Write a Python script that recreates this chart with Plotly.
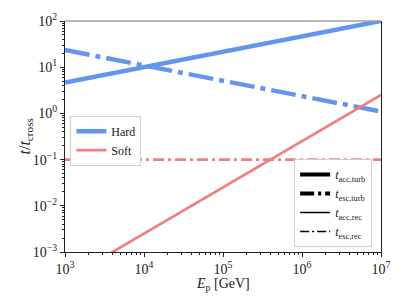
import plotly.graph_objects as go

# Data
energy = [1e3, 1e7]  # GeV
hard_acc_turb = [4.64, 100.0]
hard_esc_turb = [23.5, 1.1]
soft_acc_rec = [2.5e-4, 2.5]
soft_esc_rec = [0.1, 0.1]

x_tick_vals = [1e3, 1e4, 1e5, 1e6, 1e7]
x_tick_text = ["10<sup>3</sup>", "10<sup>4</sup>", "10<sup>5</sup>", "10<sup>6</sup>", "10<sup>7</sup>"]
y_tick_vals = [1e-3, 1e-2, 1e-1, 1e0, 1e1, 1e2]
y_tick_text = ["10<sup>\u22123</sup>", "10<sup>\u22122</sup>", "10<sup>\u22121</sup>",
               "10<sup>0</sup>", "10<sup>1</sup>", "10<sup>2</sup>"]

blue = "#6495ED"
red = "#F08080"
font_family = "Liberation Serif"

fig = go.Figure()

fig.add_trace(go.Scatter(x=energy, y=hard_acc_turb, mode="lines",
                         line=dict(color=blue, width=4.5), name="Hard", legend="legend"))
fig.add_trace(go.Scatter(x=energy, y=hard_esc_turb, mode="lines",
                         line=dict(color=blue, width=4.5, dash="25px,6px,5px,6px"),
                         showlegend=False))
fig.add_trace(go.Scatter(x=energy, y=soft_acc_rec, mode="lines",
                         line=dict(color=red, width=2.7), name="Soft", legend="legend"))
fig.add_trace(go.Scatter(x=energy, y=soft_esc_rec, mode="lines",
                         line=dict(color=red, width=2.7, dash="11px,4px,3px,4px"),
                         showlegend=False))

# style legend (black keys)
styles = [
    ("<i>t</i><sub>acc,turb</sub>", 4, "solid"),
    ("<i>t</i><sub>esc,turb</sub>", 4, "14px,4px,3px,4px"),
    ("<i>t</i><sub>acc,rec</sub>", 1.5, "solid"),
    ("<i>t</i><sub>esc,rec</sub>", 1.5, "9px,3px,2px,3px"),
]
for name, w, d in styles:
    fig.add_trace(go.Scatter(x=[None], y=[None], mode="lines",
                             line=dict(color="black", width=w, dash=d),
                             name=name, legend="legend2"))

fig.update_layout(
    width=407, height=305,
    margin=dict(l=65, r=26, t=21, b=53),
    paper_bgcolor="white", plot_bgcolor="white",
    font=dict(family=font_family, size=14, color="#222"),
    legend=dict(x=0.017, y=0.59, xanchor="left", yanchor="top",
                bordercolor="#d0d0d0", borderwidth=1, bgcolor="white",
                font=dict(size=12), tracegroupgap=0, itemwidth=30),
    legend2=dict(x=0.972, y=0.022, xanchor="right", yanchor="bottom",
                 bordercolor="#d0d0d0", borderwidth=1, bgcolor="white",
                 font=dict(size=12), tracegroupgap=0, itemwidth=30),
    showlegend=True,
    annotations=[
        dict(text="<i>E</i><sub>p</sub> [GeV]", xref="paper", yref="paper",
             x=0.5, y=0, yshift=-32, xanchor="center", yanchor="middle",
             showarrow=False, font=dict(size=14)),
        dict(text="<i>t</i>/<i>t</i><sub>cross</sub>", xref="paper", yref="paper",
             x=0, y=0.5, xshift=-40, xanchor="center", yanchor="middle",
             textangle=-90, showarrow=False, font=dict(size=16)),
    ],
)

fig.update_xaxes(type="log", range=[3, 7], tickvals=x_tick_vals, ticktext=x_tick_text,
                 automargin=False,
                 showline=True, linecolor="#222", linewidth=1, mirror=False,
                 showgrid=False, zeroline=False,
                 ticks="outside", ticklen=4, tickcolor="#222",
                 minor=dict(ticks="outside", ticklen=2, tickcolor="#222", dtick="D1", showgrid=False),
                 tickfont=dict(size=14))
fig.update_yaxes(type="log", range=[-3, 2], tickvals=y_tick_vals, ticktext=y_tick_text,
                 automargin=False,
                 showline=True, linecolor="#222", linewidth=1, mirror=True,
                 showgrid=False, zeroline=False,
                 ticks="outside", ticklen=4, tickcolor="#222",
                 minor=dict(ticks="outside", ticklen=2, tickcolor="#222", dtick="D1", showgrid=False),
                 tickfont=dict(size=14))

# gray top spine
fig.add_shape(type="line", xref="paper", yref="paper", x0=0, x1=1, y0=1, y1=1,
              line=dict(color="#a0a0a0", width=1.5))

fig.write_html("out.html", post_script="document.body.style.margin='0';",
               config={"displayModeBar": False})
